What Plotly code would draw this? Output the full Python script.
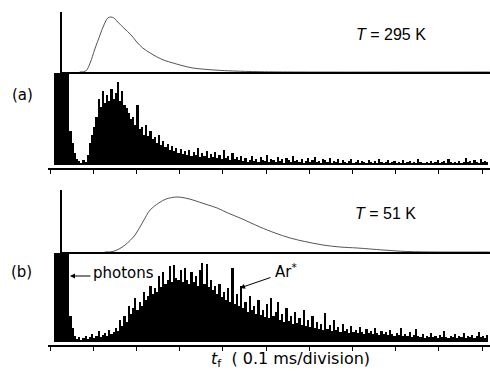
import plotly.graph_objects as go

# Time-of-flight histograms of metastable Ar* (bins of 5 us, 1 division = 100 us)
bin_width_us = 5
first_bin_us = 10
photon_arrival_us = 28          # photon burst marks t = 0 of the flight time

# counts per channel (arbitrary units); photon channels run off scale
counts_295K = [
    100, 100, 100, 100, 100, 100, 100,
    34, 22, 12, 6, 4, 2, 5, 3, 10, 22, 30, 38, 48, 66,
    58, 74, 62, 70, 64, 76, 66, 72, 83, 64, 74, 60, 57, 52,
    46, 48, 40, 60, 36, 38, 30, 40, 29, 34, 26, 28, 22, 30,
    20, 24, 18, 21, 15, 19, 14, 17, 12, 16, 11, 14, 10, 15,
    9, 13, 10, 17, 8, 12, 9, 14, 7, 11, 8, 13, 7, 10,
    6, 15, 7, 9, 5, 12, 6, 8, 5, 9,
    4, 7, 3, 5, 9, 4, 6, 3, 8, 5, 4, 10, 3, 6,
    5, 3, 8, 4, 6, 2, 7, 5, 3, 9, 4, 5, 3, 6,
    2, 4, 7, 3, 5, 8, 3, 4, 2, 6, 5, 3, 7, 2,
    4, 3, 6, 2, 5, 3, 2, 4, 6, 2, 3, 5, 2, 4,
    3, 2, 5, 3, 2, 4, 2, 6, 3, 2, 3, 5, 2, 3,
    4, 2, 3, 2, 5, 2, 3, 4, 2, 3, 2, 6, 3, 2,
    2, 3, 2, 4, 2, 3, 5, 2, 3, 4, 2, 6, 3, 2,
    3, 2, 4, 2, 3, 7, 3, 4, 2, 5, 3, 2, 6, 3, 4, 3,
]

counts_51K = [
    100, 100, 100, 100, 100, 100, 100,
    26, 14, 6, 3, 5, 2, 4, 6, 3, 5, 8, 4, 6, 11,
    5, 7, 9, 6, 12, 8, 10, 14, 11, 22, 16, 26, 20, 36,
    28, 34, 44, 32, 40, 36, 50, 42, 46, 56, 48, 54, 50, 66,
    55, 70, 58, 62, 76, 60, 77, 64, 62, 72, 60, 74, 62, 58,
    70, 60, 66, 56, 72, 79, 58, 78, 55, 62, 52, 56, 48, 58,
    45, 50, 42, 54, 40, 74, 38, 48, 36, 56, 34, 40, 30, 46,
    32, 36, 28, 42, 27, 32, 25, 38, 24, 44, 26, 30, 40, 22,
    28, 20, 34, 21, 26, 18, 30, 19, 24, 17, 32, 16, 22, 15,
    26, 14, 20, 13, 18, 12, 29, 13, 17, 11, 22, 12, 15, 10,
    18, 11, 13, 9, 16, 10, 12, 9, 15, 10, 8, 13, 9, 11,
    8, 14, 9, 7, 11, 8, 10, 7, 12, 8, 6, 9, 7, 14,
    6, 8, 6, 10, 5, 7, 13, 6, 5, 8, 4, 6, 5, 9,
    5, 6, 4, 7, 5, 11, 5, 4, 6, 5, 8, 4, 6, 5,
    9, 4, 6, 5, 7, 4, 6, 10, 5, 6, 4, 7,
]

# calculated flux-weighted time-of-flight distributions (t in us, relative height)
fit_t_295K = [69, 83, 93, 104, 116, 125, 134, 141, 148, 157, 171, 188, 201, 215,
              232, 248, 266, 285, 308, 331, 359, 387, 424, 486, 579, 1018]
fit_y_295K = [0, 1, 9, 23, 37, 47, 54, 55, 54, 50, 44, 37, 30, 24,
              19, 15, 11.5, 9, 6.2, 4, 2.7, 1.8, 1, 0.3, 0, 0]
fit_t_51K = [127, 146, 160, 174, 197, 215, 232, 252, 269, 294, 313, 331, 359, 387,
             412, 440, 463, 486, 521, 556, 590, 632, 671, 711, 771, 826, 903, 1018]
fit_y_51K = [0, 0.5, 3, 7, 17, 30, 42, 49, 53, 55, 54, 52, 48, 44,
             39, 34, 29.5, 25, 19, 14, 10.5, 7, 5, 4, 2, 0.5, 0, 0]

tick_us = list(range(0, 1001, 100))

W, H = 490, 371
x_lo, x_hi = -4.63, 1018.5      # full width of the histogram axes
x_fit_lo = photon_arrival_us


def centers(counts):
    return [first_bin_us + bin_width_us * (i + 0.5) for i in range(len(counts))]


def px_y(top, bottom):
    return [1 - bottom / H, 1 - top / H]


fig = go.Figure()

fig.add_trace(go.Scatter(x=fit_t_295K, y=fit_y_295K, mode="lines",
                         line=dict(color="#555", width=1, shape="spline"),
                         xaxis="x", yaxis="y"))
fig.add_trace(go.Bar(x=centers(counts_295K), y=counts_295K, width=bin_width_us,
                     marker=dict(color="black", line=dict(width=0)),
                     xaxis="x2", yaxis="y2"))
fig.add_trace(go.Scatter(x=fit_t_51K, y=fit_y_51K, mode="lines",
                         line=dict(color="#555", width=1, shape="spline"),
                         xaxis="x3", yaxis="y3"))
fig.add_trace(go.Bar(x=centers(counts_51K), y=counts_51K, width=bin_width_us,
                     marker=dict(color="black", line=dict(width=0)),
                     xaxis="x4", yaxis="y4"))

fit_x = dict(domain=[62 / W, 1], range=[x_fit_lo, x_hi], showline=True,
             linecolor="black", linewidth=1.5, showgrid=False, zeroline=False,
             showticklabels=False, ticks="")
hist_x = dict(domain=[48 / W, 1], range=[x_lo, x_hi], showline=True,
              linecolor="black", linewidth=2, showgrid=False, zeroline=False,
              showticklabels=False, ticks="outside", ticklen=4, tickwidth=1,
              tickcolor="black", tickvals=tick_us)
fit_y = dict(showline=True, linecolor="black", linewidth=1.5, showgrid=False,
             zeroline=False, showticklabels=False, ticks="")
hist_y = dict(showline=False, showgrid=False, zeroline=False,
              showticklabels=False, ticks="")

fig.update_layout(
    width=W, height=H,
    margin=dict(l=0, r=0, t=0, b=0),
    paper_bgcolor="white", plot_bgcolor="white",
    showlegend=False, bargap=0,
    xaxis=dict(fit_x, anchor="y"),
    yaxis=dict(fit_y, domain=px_y(12, 72), range=[0, 60], anchor="x"),
    xaxis2=dict(hist_x, anchor="y2"),
    yaxis2=dict(hist_y, domain=px_y(73, 167.5), range=[-2.5, 92], anchor="x2"),
    xaxis3=dict(fit_x, anchor="y3"),
    yaxis3=dict(fit_y, domain=px_y(190, 252), range=[0, 62], anchor="x3"),
    xaxis4=dict(hist_x, anchor="y4"),
    yaxis4=dict(hist_y, domain=px_y(253, 345), range=[-3, 89], anchor="x4"),
    font=dict(family="DejaVu Sans", color="black"),
)

label_font = dict(family="DejaVu Sans", size=15, color="black")
axis_font = dict(family="DejaVu Sans", size=16, color="black")
temp_font = dict(family="Liberation Sans", size=16, color="black")


def paper(px, py):
    return px / W, 1 - py / H


annotations = []
for text, (px, py), f in [
    ("(a)", (22, 95), label_font),
    ("(b)", (21, 272), label_font),
    ("<i>T</i> = 295 K", (391, 35), temp_font),
    ("<i>T</i> = 51 K", (385, 214), temp_font),
    ("<i>t</i><sub>f</sub>  ( 0.1 ms/division)", (290, 359), axis_font),
    ("photons", (123, 273), label_font),
    ("Ar<sup>*</sup>", (286, 271), label_font),
]:
    x, y = paper(px, py)
    annotations.append(dict(text=text, x=x, y=y, xref="paper", yref="paper",
                            showarrow=False, font=f, xanchor="center", yanchor="middle"))

# arrows pointing at the photon burst and at the Ar* distribution
for (hx_px, hy_px), (tx_px, ty_px) in [((70, 276), (92, 276)),
                                       ((240, 288), (272, 277))]:
    x, y = paper(hx_px, hy_px)
    annotations.append(dict(x=x, y=y, xref="paper", yref="paper",
                            ax=tx_px - hx_px, ay=ty_px - hy_px,
                            text="", showarrow=True, arrowhead=2, arrowsize=1,
                            arrowwidth=1, arrowcolor="black"))

fig.update_layout(annotations=annotations)

fig.write_html("out.html")
